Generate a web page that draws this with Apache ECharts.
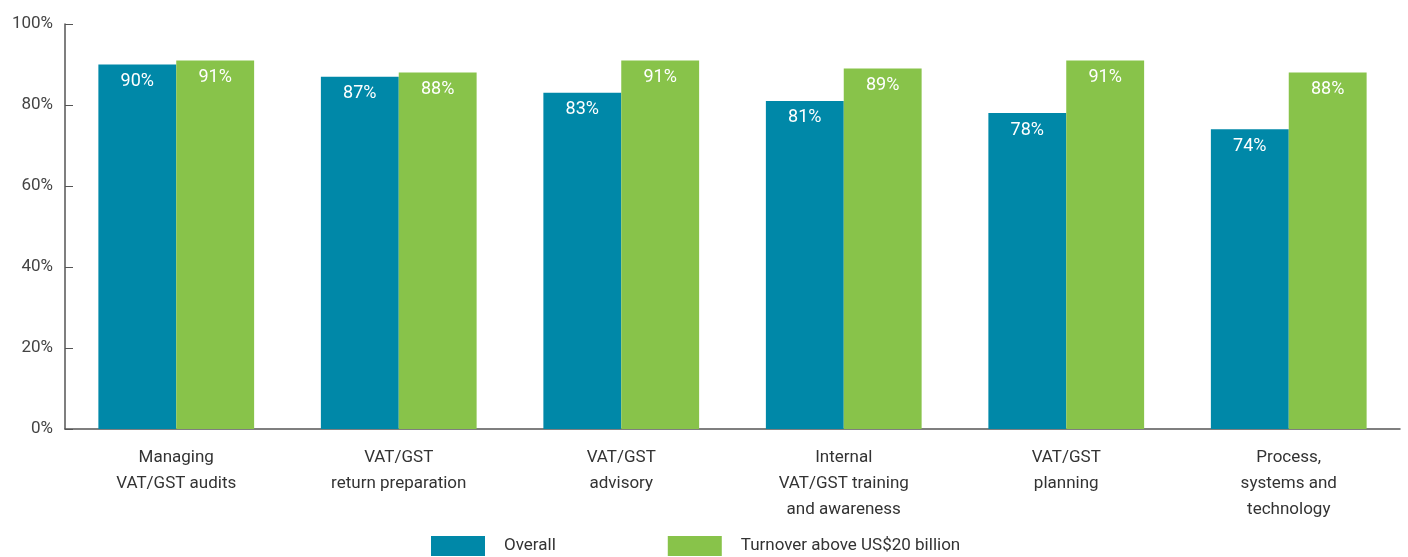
<!DOCTYPE html>
<html>
<head>
<meta charset="utf-8">
<script src="https://cdn.jsdelivr.net/npm/echarts@6/dist/echarts.min.js"></script>
<style>
  html, body { margin: 0; padding: 0; background: #fff; }
  #main { width: 1408px; height: 557px; }
</style>
</head>
<body>
<div id="main"></div>
<script>
// data
var categories = [
  'Managing\nVAT/GST audits',
  'VAT/GST\nreturn preparation',
  'VAT/GST\nadvisory',
  'Internal\nVAT/GST training\nand awareness',
  'VAT/GST\nplanning',
  'Process,\nsystems and\ntechnology'
];
var overall = [90, 87, 83, 81, 78, 74];
var turnover = [91, 88, 91, 89, 91, 88];
var seriesNames = ['Overall', 'Turnover above US$20 billion'];

var font = 'Roboto, sans-serif';

var myChart = echarts.init(document.getElementById('main'));
var option = {
  color: ['#0088a8', '#88c34a'],
  textStyle: { fontFamily: font },
  grid: { left: 65, right: 8, top: 24, bottom: 128 },
  legend: {
    left: 431,
    bottom: 1,
    padding: 0,
    icon: 'rect',
    itemWidth: 54,
    itemHeight: 20,
    itemGap: 112,
    textStyle: { fontFamily: font, fontSize: 17, color: '#333', padding: [0, 0, 0, 14] },
    data: seriesNames
  },
  xAxis: {
    type: 'category',
    data: categories,
    axisLine: { lineStyle: { color: '#555', width: 1.5 } },
    axisTick: { inside: true, length: 12, lineStyle: { color: '#555' } },
    axisLabel: { fontFamily: font, fontSize: 17, color: '#333', lineHeight: 26, margin: 16 }
  },
  yAxis: {
    type: 'value',
    min: 0,
    max: 100,
    interval: 20,
    splitLine: { show: false },
    axisLine: { show: true, lineStyle: { color: '#555', width: 1.5 } },
    axisTick: { show: true, inside: true, length: 8, lineStyle: { color: '#555' } },
    axisLabel: { fontFamily: font, fontSize: 17, color: '#444', margin: 12, formatter: '{value}%' }
  },
  series: [
    {
      name: seriesNames[0],
      type: 'bar',
      data: overall,
      barGap: 0,
      barCategoryGap: '30%',
      label: { show: true, position: 'insideTop', distance: 8, color: '#fff', fontFamily: font, fontSize: 18, formatter: '{c}%' }
    },
    {
      name: seriesNames[1],
      type: 'bar',
      data: turnover,
      barGap: 0,
      barCategoryGap: '30%',
      label: { show: true, position: 'insideTop', distance: 8, color: '#fff', fontFamily: font, fontSize: 18, formatter: '{c}%' }
    }
  ]
};
myChart.setOption(option);
</script>
</body>
</html>
